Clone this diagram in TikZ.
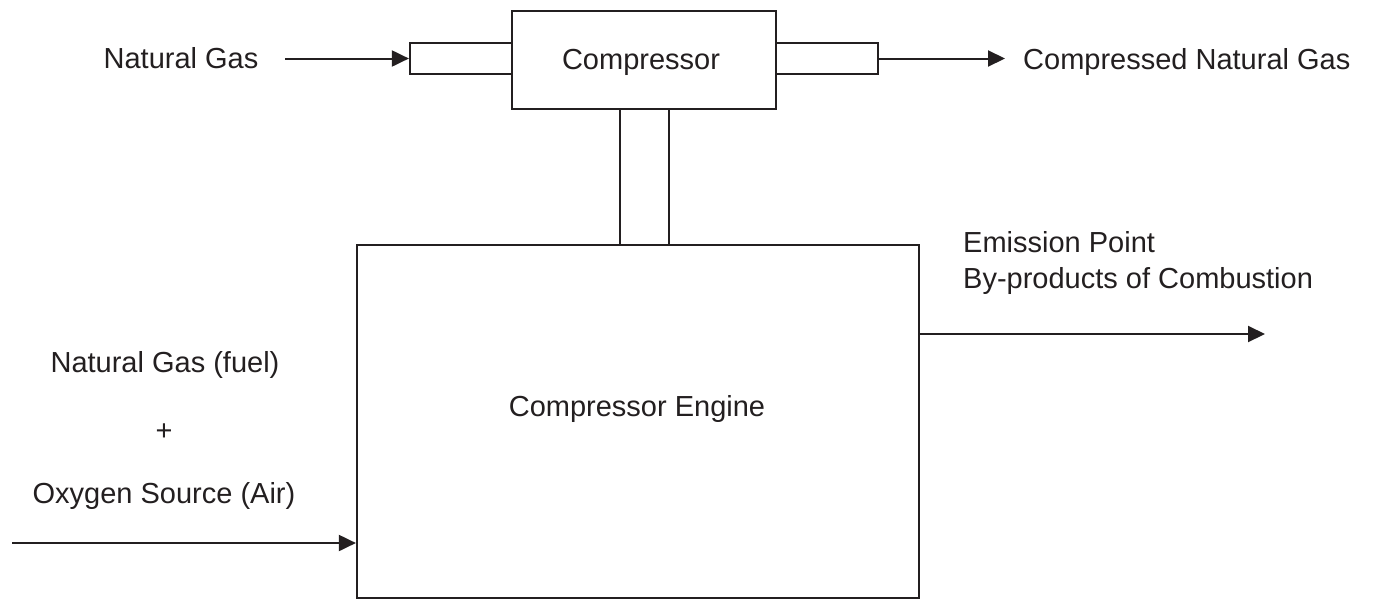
\documentclass[tikz,border=0pt]{standalone}
\usepackage{fontspec}
\setmainfont{Liberation Sans}
\usetikzlibrary{arrows.meta}
\definecolor{ink}{HTML}{231F20}
\begin{document}
\begin{tikzpicture}[x=1pt,y=-1pt,
  every node/.style={font=\fontsize{29}{35}\selectfont, text=ink},
  blk/.style={draw=ink, line width=2.2pt, fill=white, inner sep=0pt, rectangle},
  lbl/.style={inner sep=0pt},
  arr/.style={draw=ink, line width=2pt, -{Triangle[length=17pt,width=16pt]}}]
\useasboundingbox (0,0) rectangle (1375,600);
% blocks
\node[blk, minimum width=102pt, minimum height=31pt] (inL) at (461,58.5) {};
\node[blk, minimum width=102pt, minimum height=31pt] (inR) at (827,58.5) {};
\node[blk, minimum width=49pt, minimum height=137pt] (shaft) at (644.5,177) {};
\node[blk, minimum width=264pt, minimum height=98pt] (comp) at (644,60) {};
\node[blk, minimum width=562pt, minimum height=353pt] (eng) at (638,421.5) {};
% labels
\node[lbl, anchor=base] (cl) at (641,69) {Compressor};
\node[lbl, anchor=base] (el) at (637,416) {Compressor Engine};
\node[lbl, anchor=base] (ng) at (181,68) {Natural Gas};
\node[lbl, anchor=base west] (cng) at (1023,69) {Compressed Natural Gas};
\node[lbl, anchor=base west] (ep) at (963,252) {Emission Point};
\node[lbl, anchor=base west] (bp) at (963,288) {By-products of Combustion};
\node[lbl, anchor=base] (fu) at (165,372) {Natural Gas (fuel)};
\node[lbl, anchor=base] (pl) at (164,440) {+};
\node[lbl, anchor=base] (ox) at (164,503) {Oxygen Source (Air)};
% connector ends
\coordinate (ngs) at (285,58.5);
\coordinate (cnge) at (1005,58.5);
\coordinate (eo) at (1265,334);
\coordinate (eis) at (12,543);
% connectors
\draw[arr] (ngs) -- (inL.west);
\draw[arr] (inR.east) -- (cnge);
\draw[arr] (eng.east |- eo) -- (eo);
\draw[arr] (eis) -- (eng.west |- eis);
\end{tikzpicture}
\end{document}
